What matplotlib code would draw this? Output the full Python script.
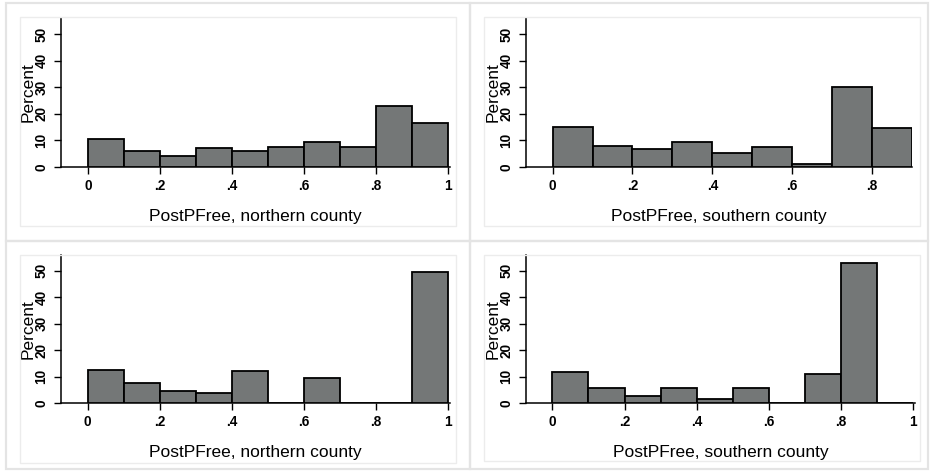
import numpy as np
import matplotlib
matplotlib.use("Agg")
import matplotlib.pyplot as plt
from matplotlib.patches import Rectangle

plt.rcParams['font.family'] = ['Liberation Sans', 'DejaVu Sans']

# percent of counties in each 0.1-wide PostPFree bin
north_top = [10.5, 5.9, 4.3, 7.0, 5.9, 7.5, 9.5, 7.5, 22.8, 16.6]
south_top = [15.1, 7.8, 6.7, 9.4, 5.3, 7.5, 1.3, 29.9, 14.7]
north_bot = [12.6, 7.4, 4.4, 3.7, 12.2, 0, 9.4, 0, 0, 49.5]
south_bot = [11.6, 5.8, 2.8, 5.8, 1.4, 5.8, 0, 11.0, 53.1, 0]
bin_width = 0.1

y_ticks = [0, 10, 20, 30, 40, 50]
x_ticks_full = [0, 0.2, 0.4, 0.6, 0.8, 1.0]
x_labels_full = ['0', '.2', '.4', '.6', '.8', '1']
x_ticks_short = [0, 0.2, 0.4, 0.6, 0.8]
x_labels_short = ['0', '.2', '.4', '.6', '.8']

W, H = 930, 471
fig = plt.figure(figsize=(W / 100, H / 100), dpi=100)
fig.patch.set_facecolor('white')

def px_rect(x0, y0, x1, y1):
    # pixel box (top-left origin) -> figure fraction [left, bottom, width, height]
    return [x0 / W, (H - y1) / H, (x1 - x0) / W, (y1 - y0) / H]

# light graph-region frames
for x0, y0, x1, y1 in [(6, 3, 470, 241), (470, 3, 928, 241),
                       (6, 241, 470, 469), (470, 241, 928, 469)]:
    l, b, w, h = px_rect(x0, y0, x1, y1)
    fig.add_artist(Rectangle((l, b), w, h, transform=fig.transFigure,
                             fill=False, edgecolor='#e4e4e4', lw=1.6))
# faint plot-region frames
for x0, y0, x1, y1 in [(20, 17, 456, 226), (484, 17, 920, 226),
                       (20, 255, 456, 463), (484, 255, 920, 461)]:
    l, b, w, h = px_rect(x0, y0, x1, y1)
    fig.add_artist(Rectangle((l, b), w, h, transform=fig.transFigure,
                             fill=False, edgecolor='#ececec', lw=1.0))

panels = [
    (north_top, (61, 18, 450, 167), (-0.075, 1.0056), x_ticks_full, x_labels_full,
     'PostPFree, northern county'),
    (south_top, (526, 18, 912, 167), (-0.0666, 0.9), x_ticks_short, x_labels_short,
     'PostPFree, southern county'),
    (north_bot, (61, 255, 450, 403), (-0.074, 1.005), x_ticks_full, x_labels_full,
     'PostPFree, northern county'),
    (south_bot, (526, 255, 915, 403), (-0.073, 1.005), x_ticks_full, x_labels_full,
     'PostPFree, southern county'),
]

for vals, box, xlim, xt, xtl, xlab in panels:
    ax = fig.add_axes(px_rect(*box))
    edges = np.arange(len(vals)) * bin_width
    ax.bar(edges, vals, width=bin_width, align='edge', color='#747777',
           edgecolor='black', linewidth=1.3, zorder=3)
    ax.set_xlim(*xlim)
    ax.set_ylim(0, 56)
    ax.set_facecolor('none')
    for s in ['top', 'right']:
        ax.spines[s].set_visible(False)
    for s in ['left', 'bottom']:
        ax.spines[s].set_linewidth(1.1)
    ax.set_yticks(y_ticks)
    ax.set_yticklabels([str(v) for v in y_ticks], fontweight='bold')
    ax.set_xticks(xt)
    ax.set_xticklabels(xtl, fontweight='bold')
    ax.tick_params(axis='both', length=5, width=1.0, labelsize=9.8, pad=4)
    ax.tick_params(axis='y', labelrotation=90)
    for t in ax.get_yticklabels():
        t.set_va('center')
    ax.set_ylabel('Percent', fontsize=12.5)
    ax.yaxis.set_label_coords(-0.085, 0.5)
    ax.yaxis.label.set_va('center')
    ax.set_xlabel(xlab, fontsize=12.5)
    ax.xaxis.set_label_coords(0.5, -0.335)
    ax.xaxis.label.set_va('center')

fig.savefig('out.png', dpi=100)
